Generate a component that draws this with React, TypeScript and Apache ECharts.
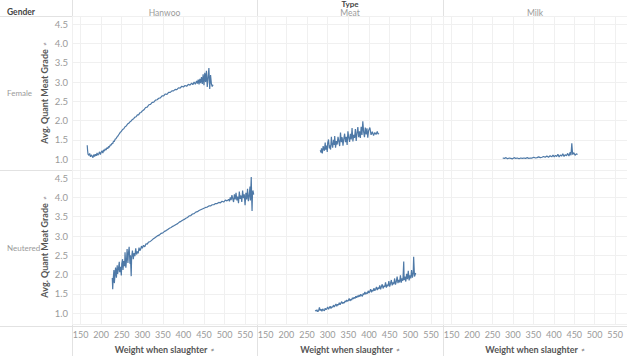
import React, { useEffect, useRef } from "react";
import * as echarts from "echarts";

const TYPES = ["Hanwoo", "Meat", "Milk"];
const GENDERS = ["Female", "Neutered"];
const X_TITLE = "Weight when slaughter";
const Y_TITLE = "Avg. Quant Meat Grade";

// [weight, avg grade]
const femaleHanwoo: number[][] = [
  [166, 1.36], [167, 1.22], [168, 1.13], [170, 1.1], [172, 1.15], [174, 1.06], [176, 1.11], [178, 1.08],
  [180, 1.04], [182, 1.12], [184, 1.07], [186, 1.13], [188, 1.09], [190, 1.16], [192, 1.1], [194, 1.14],
  [196, 1.19], [198, 1.12], [200, 1.18], [202, 1.22], [204, 1.16], [206, 1.24], [208, 1.21], [210, 1.27],
  [212, 1.24], [214, 1.3], [216, 1.27], [218, 1.33], [220, 1.31], [222, 1.37], [224, 1.36], [226, 1.41],
  [228, 1.4], [230, 1.47], [232, 1.46], [234, 1.52], [236, 1.53], [238, 1.57], [240, 1.59], [243, 1.64],
  [246, 1.69], [249, 1.72], [252, 1.77], [255, 1.79], [258, 1.84], [261, 1.86], [264, 1.91], [267, 1.93],
  [270, 1.97], [273, 1.99], [276, 2.03], [279, 2.05], [282, 2.09], [285, 2.1], [288, 2.15], [291, 2.15],
  [294, 2.2], [297, 2.21], [300, 2.25], [304, 2.28], [308, 2.34], [312, 2.35], [316, 2.41], [320, 2.42],
  [324, 2.47], [328, 2.48], [332, 2.53], [336, 2.54], [340, 2.58], [344, 2.59], [348, 2.64], [352, 2.64],
  [356, 2.69], [360, 2.68], [364, 2.73], [368, 2.73], [372, 2.77], [376, 2.77], [380, 2.81], [384, 2.8],
  [388, 2.85], [392, 2.84], [396, 2.89], [400, 2.87], [404, 2.91], [408, 2.89], [412, 2.94], [416, 2.92],
  [420, 2.97], [423, 2.93], [426, 3.0], [429, 2.94], [432, 3.03], [434, 2.96], [436, 3.06], [438, 2.94],
  [440, 3.08], [442, 2.97], [444, 3.13], [446, 2.95], [448, 3.2], [450, 2.92], [452, 3.24], [454, 3.0],
  [456, 3.29], [458, 2.87], [460, 3.12], [462, 3.36], [464, 2.82], [466, 3.18], [468, 2.96], [470, 2.88],
  [472, 2.93],
];

const femaleMeat: number[][] = [
  [282, 1.23], [284, 1.17], [285, 1.28], [287, 1.15], [289, 1.34], [290, 1.29], [292, 1.22], [294, 1.43],
  [295, 1.25], [297, 1.35], [299, 1.19], [300, 1.42], [302, 1.51], [304, 1.28], [305, 1.36], [307, 1.25],
  [309, 1.58], [310, 1.42], [312, 1.3], [314, 1.5], [316, 1.37], [317, 1.6], [319, 1.3], [321, 1.47],
  [323, 1.38], [325, 1.58], [327, 1.46], [329, 1.34], [331, 1.69], [333, 1.44], [335, 1.57], [337, 1.35],
  [339, 1.53], [341, 1.66], [343, 1.44], [345, 1.58], [347, 1.37], [349, 1.72], [351, 1.56], [353, 1.45],
  [355, 1.66], [357, 1.51], [359, 1.81], [361, 1.46], [363, 1.63], [365, 1.55], [367, 1.78], [369, 1.47],
  [371, 1.68], [373, 1.83], [375, 1.57], [377, 1.72], [379, 1.55], [381, 1.84], [383, 1.63], [385, 1.98],
  [387, 1.71], [389, 1.57], [391, 1.82], [393, 1.64], [395, 1.8], [397, 1.56], [399, 1.74], [402, 1.82],
  [405, 1.63], [408, 1.71], [411, 1.61], [414, 1.69], [417, 1.64], [420, 1.72], [422, 1.65], [424, 1.67],
];

const femaleMilk: number[][] = [
  [275, 1.03], [279, 1.02], [283, 1.04], [287, 1.01], [291, 1.03], [295, 1.02], [299, 1.01], [303, 1.04],
  [307, 1.02], [311, 1.03], [315, 1.01], [319, 1.03], [323, 1.02], [327, 1.03], [331, 1.02], [335, 1.04],
  [339, 1.02], [343, 1.03], [347, 1.03], [351, 1.05], [355, 1.03], [359, 1.04], [363, 1.06], [367, 1.04],
  [371, 1.05], [375, 1.07], [379, 1.05], [383, 1.08], [387, 1.05], [391, 1.09], [395, 1.06], [398, 1.11],
  [401, 1.06], [404, 1.1], [407, 1.07], [410, 1.13], [413, 1.06], [416, 1.11], [419, 1.08], [422, 1.14],
  [425, 1.07], [428, 1.12], [431, 1.09], [434, 1.15], [437, 1.08], [440, 1.18], [442, 1.1], [444, 1.41],
  [446, 1.12], [449, 1.17], [452, 1.1], [455, 1.14], [458, 1.12],
];

const neuteredHanwoo: number[][] = [
  [227, 1.91], [228, 1.62], [229, 1.85], [231, 2.12], [232, 1.78], [234, 2.05], [235, 2.18], [237, 1.92],
  [239, 2.24], [240, 2.02], [242, 2.15], [244, 2.33], [245, 2.06], [247, 2.2], [249, 1.98], [250, 2.28],
  [252, 2.4], [253, 2.12], [255, 2.35], [257, 2.22], [258, 2.58], [260, 2.18], [262, 2.44], [263, 2.66],
  [265, 2.3], [266, 2.52], [268, 2.72], [270, 2.28], [271, 2.5], [273, 1.96], [274, 2.45], [276, 2.62],
  [278, 2.4], [280, 2.56], [282, 2.48], [284, 2.68], [286, 2.52], [288, 2.6], [290, 2.55], [292, 2.7],
  [294, 2.62], [296, 2.66], [298, 2.74], [300, 2.68], [303, 2.76], [306, 2.72], [309, 2.8], [312, 2.79],
  [315, 2.84], [318, 2.85], [322, 2.88], [326, 2.92], [330, 2.95], [334, 2.98], [338, 3.01], [342, 3.03],
  [346, 3.07], [350, 3.08], [354, 3.12], [358, 3.14], [362, 3.17], [366, 3.2], [370, 3.22], [374, 3.25],
  [378, 3.27], [382, 3.3], [386, 3.32], [390, 3.36], [394, 3.38], [398, 3.41], [402, 3.43], [406, 3.46],
  [410, 3.48], [414, 3.52], [418, 3.53], [422, 3.57], [426, 3.58], [430, 3.62], [434, 3.63], [438, 3.66],
  [442, 3.68], [446, 3.7], [450, 3.72], [454, 3.74], [458, 3.75], [462, 3.78], [466, 3.78], [470, 3.81],
  [474, 3.81], [478, 3.84], [482, 3.84], [486, 3.87], [490, 3.86], [494, 3.9], [498, 3.88], [502, 3.93],
  [506, 3.91], [510, 3.95], [512, 3.9], [514, 4.0], [516, 3.93], [518, 4.06], [520, 3.97], [522, 3.88],
  [524, 4.08], [526, 3.95], [528, 4.12], [530, 3.92], [532, 4.02], [534, 3.85], [536, 4.15], [538, 3.96],
  [540, 4.05], [542, 3.88], [544, 4.18], [546, 3.98], [548, 4.08], [550, 3.8], [552, 4.12], [554, 3.95],
  [556, 4.22], [558, 3.9], [560, 4.05], [562, 4.28], [563, 3.92], [565, 4.53], [566, 4.0], [567, 3.65],
  [568, 4.1], [569, 4.18], [571, 4.07],
];

const neuteredMeat: number[][] = [
  [270, 1.08], [272, 1.05], [274, 1.09], [276, 1.04], [278, 1.06], [280, 1.15], [282, 1.07], [284, 1.1],
  [286, 1.05], [288, 1.11], [290, 1.08], [292, 1.06], [294, 1.13], [296, 1.09], [298, 1.12], [300, 1.16],
  [302, 1.1], [304, 1.14], [306, 1.18], [308, 1.12], [310, 1.17], [312, 1.15], [314, 1.21], [316, 1.16],
  [318, 1.2], [320, 1.24], [322, 1.18], [324, 1.23], [326, 1.21], [328, 1.27], [330, 1.22], [332, 1.26],
  [334, 1.3], [336, 1.25], [338, 1.28], [340, 1.26], [342, 1.32], [344, 1.29], [346, 1.34], [348, 1.31],
  [350, 1.33], [352, 1.38], [354, 1.32], [356, 1.36], [358, 1.34], [360, 1.4], [362, 1.37], [364, 1.41],
  [366, 1.38], [368, 1.44], [370, 1.4], [372, 1.45], [374, 1.42], [376, 1.47], [378, 1.43], [380, 1.49],
  [382, 1.46], [384, 1.44], [386, 1.51], [388, 1.48], [390, 1.55], [392, 1.49], [394, 1.53], [396, 1.51],
  [398, 1.58], [400, 1.52], [402, 1.57], [404, 1.62], [406, 1.54], [408, 1.6], [410, 1.57], [412, 1.65],
  [414, 1.58], [416, 1.62], [418, 1.68], [420, 1.6], [422, 1.66], [424, 1.63], [426, 1.72], [428, 1.62],
  [430, 1.69], [432, 1.75], [434, 1.64], [436, 1.71], [438, 1.68], [440, 1.8], [442, 1.66], [444, 1.74],
  [446, 1.7], [448, 1.83], [450, 1.69], [452, 1.77], [454, 1.86], [456, 1.72], [458, 1.8], [460, 1.75],
  [462, 1.9], [464, 1.74], [466, 1.82], [468, 1.95], [470, 1.78], [472, 1.86], [474, 1.8], [476, 1.98],
  [478, 1.79], [480, 1.9], [482, 1.84], [484, 2.34], [485, 1.86], [487, 1.95], [489, 1.82], [491, 2.02],
  [493, 1.88], [495, 2.1], [497, 1.85], [499, 1.98], [501, 1.9], [503, 2.12], [505, 1.92], [507, 2.05],
  [508, 2.46], [510, 1.95], [513, 2.04],
];

const neuteredMilk: number[][] = [];

const SERIES_DATA = [
  [femaleHanwoo, femaleMeat, femaleMilk],
  [neuteredHanwoo, neuteredMeat, neuteredMilk],
];

const COL_LEFT = [72, 257, 443];
const COL_WIDTH = [185, 186, 184];
const ROW_TOP = [16, 170];
const ROW_HEIGHT = [154, 156];

const FONT = "Lato, 'Open Sans', sans-serif";
const LINE_COLOR = "#4e79a7";
const GRID_COLOR = "#f0f0f0";
const BORDER_COLOR = "#e2e2e2";

export default function App() {
  const ref = useRef<HTMLDivElement>(null);

  useEffect(() => {
    document.body.style.margin = "0";
    if (!ref.current) return;
    const chart = echarts.init(ref.current, null, { renderer: "svg" });

    const grids: any[] = [];
    const xAxes: any[] = [];
    const yAxes: any[] = [];
    const series: any[] = [];

    for (let r = 0; r < 2; r++) {
      for (let c = 0; c < 3; c++) {
        const idx = r * 3 + c;
        grids.push({
          left: COL_LEFT[c],
          top: ROW_TOP[r],
          width: COL_WIDTH[c],
          height: ROW_HEIGHT[r],
          containLabel: false,
        });
        xAxes.push({
          type: "value",
          gridIndex: idx,
          min: 129,
          max: 579,
          splitNumber: 9,
          axisLine: { show: false },
          axisTick: { show: false },
          axisLabel: {
            show: r === 1,
            color: "#9a9a9a",
            fontSize: 9,
            fontFamily: FONT,
            margin: 6,
            showMinLabel: false,
            showMaxLabel: false,
          },
          splitLine: { show: true, lineStyle: { color: GRID_COLOR, width: 1 } },
          name: r === 1 ? "{t|" + X_TITLE + "} {s|≠}" : "",
          nameLocation: "middle",
          nameGap: 19,
          nameTextStyle: {
            rich: {
              t: { fontSize: 9, color: "#555", fontFamily: FONT, fontWeight: "bold" },
              s: { fontSize: 6, color: "#777", fontFamily: FONT },
            },
          },
        });
        yAxes.push({
          type: "value",
          gridIndex: idx,
          min: 0.72,
          max: 4.71,
          splitNumber: 8,
          axisLine: { show: false },
          axisTick: { show: false },
          axisLabel: {
            show: c === 0,
            color: "#9a9a9a",
            fontSize: 9.5,
            fontFamily: FONT,
            margin: 4,
            showMinLabel: false,
            showMaxLabel: false,
            formatter: (v: number) => v.toFixed(1),
          },
          splitLine: { show: true, lineStyle: { color: GRID_COLOR, width: 1 } },
          name: c === 0 ? "{t|" + Y_TITLE + "} {s|≠}" : "",
          nameLocation: "middle",
          nameRotate: 90,
          nameGap: 20,
          nameTextStyle: {
            rich: {
              t: { fontSize: 9, color: "#555", fontFamily: FONT, fontWeight: "bold" },
              s: { fontSize: 6, color: "#777", fontFamily: FONT },
            },
          },
        });
        series.push({
          type: "line",
          xAxisIndex: idx,
          yAxisIndex: idx,
          data: SERIES_DATA[r][c],
          showSymbol: false,
          symbol: "none",
          lineStyle: { color: LINE_COLOR, width: 1.2 },
          itemStyle: { color: LINE_COLOR },
        });
      }
    }

    const graphics: any[] = [];
    const hLine = (y: number, x1: number, x2: number) =>
      graphics.push({
        type: "line",
        shape: { x1, y1: y + 0.5, x2, y2: y + 0.5 },
        style: { stroke: BORDER_COLOR, lineWidth: 1 },
        silent: true,
      });
    const vLine = (x: number, y1: number, y2: number) =>
      graphics.push({
        type: "line",
        shape: { x1: x + 0.5, y1, x2: x + 0.5, y2 },
        style: { stroke: BORDER_COLOR, lineWidth: 1 },
        silent: true,
      });
    hLine(16, 0, 627);
    hLine(170, 0, 627);
    hLine(326, 0, 627);
    vLine(72, 0, 356);
    vLine(257, 0, 356);
    vLine(443, 0, 356);

    graphics.push({
      type: "text",
      x: 7,
      y: 12,
      style: { text: "Gender", fontSize: 8.5, fontWeight: "bold", fill: "#444", fontFamily: FONT, verticalAlign: "middle" },
    });
    graphics.push({
      type: "text",
      x: 350,
      y: 4,
      style: { text: "Type", fontSize: 8, fontWeight: "bold", fill: "#444", fontFamily: FONT, align: "center", verticalAlign: "middle" },
    });
    TYPES.forEach((t, c) => {
      graphics.push({
        type: "text",
        x: COL_LEFT[c] + COL_WIDTH[c] / 2,
        y: 13,
        style: { text: t, fontSize: 8.5, fill: "#9a9a9a", fontFamily: FONT, align: "center", verticalAlign: "middle" },
      });
    });
    GENDERS.forEach((g, r) => {
      graphics.push({
        type: "text",
        x: 7,
        y: ROW_TOP[r] + ROW_HEIGHT[r] / 2,
        style: { text: g, fontSize: 8, fill: "#9a9a9a", fontFamily: FONT, verticalAlign: "middle" },
      });
    });

    chart.setOption({
      animation: false,
      backgroundColor: "#ffffff",
      grid: grids,
      xAxis: xAxes,
      yAxis: yAxes,
      series,
      graphic: graphics,
    });

    return () => chart.dispose();
  }, []);

  return <div ref={ref} style={{ width: 627, height: 356 }} />;
}
